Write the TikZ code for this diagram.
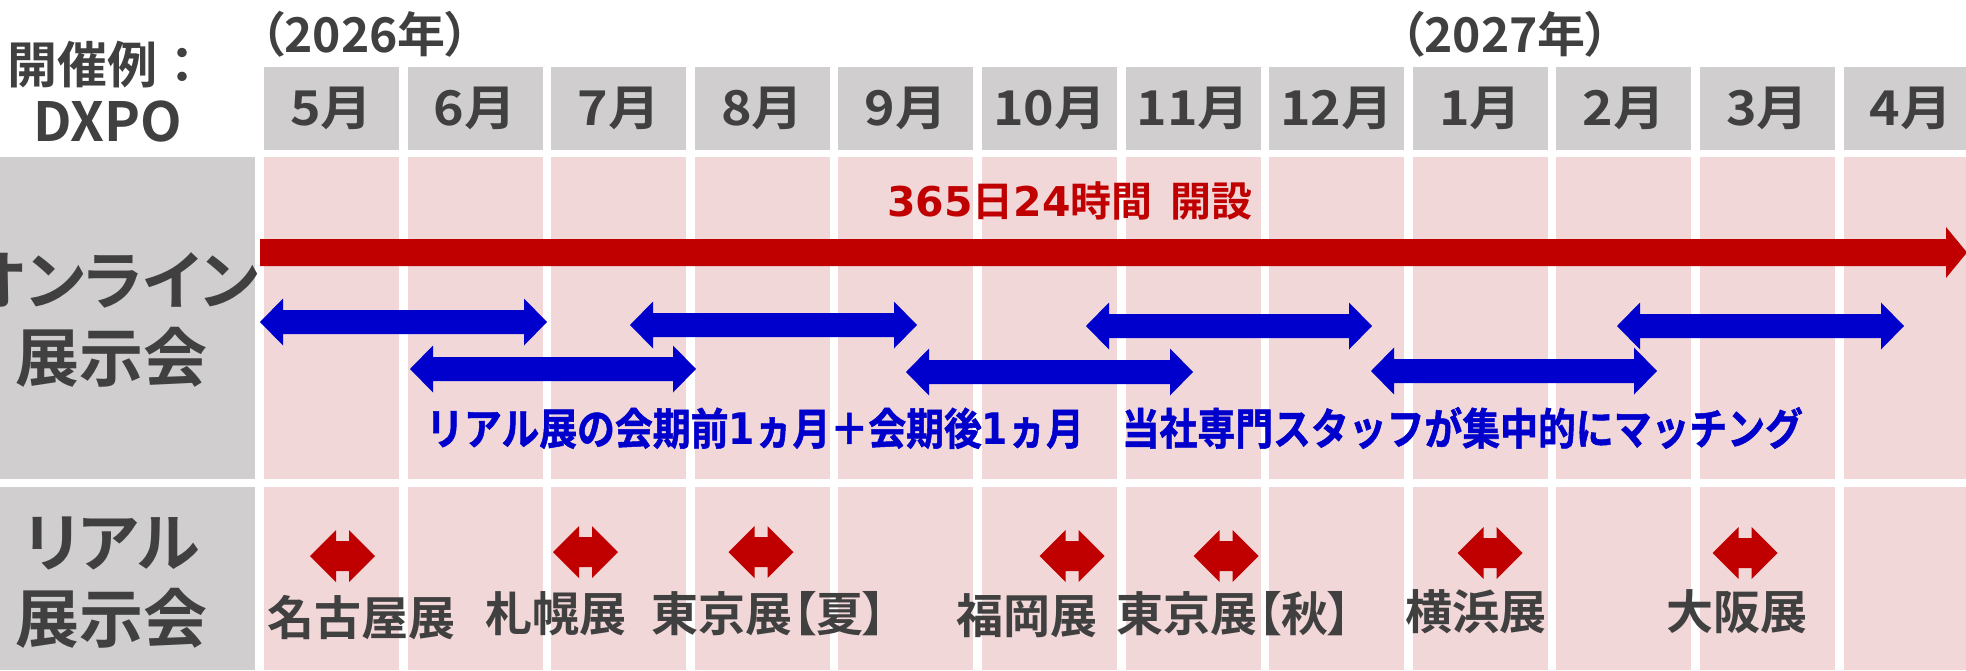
\documentclass[tikz,border=0pt]{standalone}
\usepackage{fontspec}
\newfontfamily\jp{Noto Sans CJK JP Bold}
\newfontfamily\jpw{Noto Sans CJK JP Bold}[FakeStretch=1.08]
\newfontfamily\jpp{Noto Sans CJK JP Bold}[RawFeature=+palt]
\newfontfamily\jpn{Noto Sans CJK JP Bold}[FakeStretch=0.87,FakeBold=1.2]
\newfontfamily\dvb{DejaVu Sans Bold}
\newfontfamily\dvn{DejaVu Sans Bold}[FakeStretch=0.87]
\definecolor{hdr}{HTML}{D0CECF}
\definecolor{pnk}{HTML}{F2D7D9}
\definecolor{txt}{HTML}{404040}
\definecolor{rd}{HTML}{C00000}
\definecolor{bl}{HTML}{0000CC}
% #1 colour, #2 left x, #3 right x, #4 y, #5 head length, #6 head half width, #7 shaft half width
\newcommand\DArr[7]{%
  \fill[#1] (#2,#4) -- ({#2+#5},{#4-#6}) -- ({#2+#5},{#4-#7}) -- ({#3-#5},{#4-#7})
    -- ({#3-#5},{#4-#6}) -- (#3,#4) -- ({#3-#5},{#4+#6}) -- ({#3-#5},{#4+#7})
    -- ({#2+#5},{#4+#7}) -- ({#2+#5},{#4+#6}) -- cycle;}
\begin{document}
\begin{tikzpicture}[x=1pt,y=-1pt,
  hdrbox/.style={fill=hdr, text=txt, minimum width=135, minimum height=83, inner sep=0,
                 font=\jpw\fontsize{48}{56}\selectfont},
  graybox/.style={fill=hdr, inner sep=0, minimum width=255},
  lbl/.style={text=txt, align=center, inner sep=0},
  evt/.style={text=txt, inner sep=0, font=\jpp\fontsize{47}{56}\selectfont}]
\fill[white] (0,0) rectangle (1966,670);
\clip (0,0) rectangle (1966,670);
% month columns
\foreach \m [count=\i from 0] in {5月,6月,7月,8月,9月,10月,11月,12月,1月,2月,3月,4月}{
  \pgfmathsetmacro\xl{264+143.6*\i}
  \node[hdrbox] (m\i) at (\xl+67.5,108) {\m};
  \fill[pnk] (\xl,157) rectangle ++(135,322);
  \fill[pnk] (\xl,487) rectangle ++(135,183);
}
% left label boxes
\node[graybox, minimum height=322] (onl) at (127.5,318) {};
\node[graybox, minimum height=183] (rea) at (127.5,578.5) {};
\node[lbl, font=\jpp\fontsize{64}{77}\selectfont] (onlt) at (112,320) {オンライン\\展示会};
\node[lbl, font=\jpp\fontsize{64}{76}\selectfont] (reat) at (112,583) {リアル\\展示会};
% title
\node[lbl, font=\jp\fontsize{50}{58}\selectfont] (ttl) at (108,92) {開催例：\\{\fontsize{54}{58}\selectfont DXPO}};
\node[lbl, font=\jpp\fontsize{48}{54}\selectfont] (y26) at (365,34) {（2026年）};
\node[lbl, font=\jpp\fontsize{48}{54}\selectfont] (y27) at (1505,34) {（2027年）};
% long red arrow
\fill[rd] (260,239) -- (1946,239) -- (1946,227) -- (1967,252.5) -- (1946,278) -- (1946,266) -- (260,266) -- cycle;
\node[text=rd, inner sep=0] (t365) at (1070,201)
  {\dvb\fontsize{41}{48}\selectfont 365{\jp 日}24{\jp 時間}\hspace{18pt}{\jp 開設}};
% blue arrows
\DArr{bl}{260}{547}{322}{23}{23.5}{12}
\DArr{bl}{410}{696}{369}{23}{23.5}{12}
\DArr{bl}{630}{917}{325}{23}{23.5}{12}
\DArr{bl}{906}{1193}{372}{23}{23.5}{12}
\DArr{bl}{1086}{1372}{326}{23}{23.5}{12}
\DArr{bl}{1371}{1657}{371}{23}{23.5}{12}
\DArr{bl}{1617}{1904}{326}{23}{23.5}{12}
\node[text=bl, inner sep=0] (btxt) at (1114.5,428)
  {\jpn\fontsize{43.5}{50}\selectfont リアル展の会期前{\dvn 1}ヵ月＋会期後{\dvn 1}ヵ月　当社専門スタッフが集中的にマッチング};
% real exhibitions
\DArr{rd}{310}{375}{556}{26}{26}{15}
\DArr{rd}{553}{618}{552}{26}{26}{15}
\DArr{rd}{728.5}{793.5}{552}{26}{26}{15}
\DArr{rd}{1039.5}{1104.5}{556}{26}{26}{15}
\DArr{rd}{1193.5}{1258.5}{556}{26}{26}{15}
\DArr{rd}{1457.5}{1522.5}{553}{26}{26}{15}
\DArr{rd}{1712.5}{1777.5}{553}{26}{26}{15}
\node[evt] (nag) at (361,618) {名古屋展};
\node[evt] (sap) at (556,614) {札幌展};
\node[evt] (tks) at (769,614) {東京展【夏】};
\node[evt] (fuk) at (1027,616) {福岡展};
\node[evt] (tka) at (1234,614) {東京展【秋】};
\node[evt] (yok) at (1476,612) {横浜展};
\node[evt] (osa) at (1737,612) {大阪展};
\end{tikzpicture}
\end{document}
